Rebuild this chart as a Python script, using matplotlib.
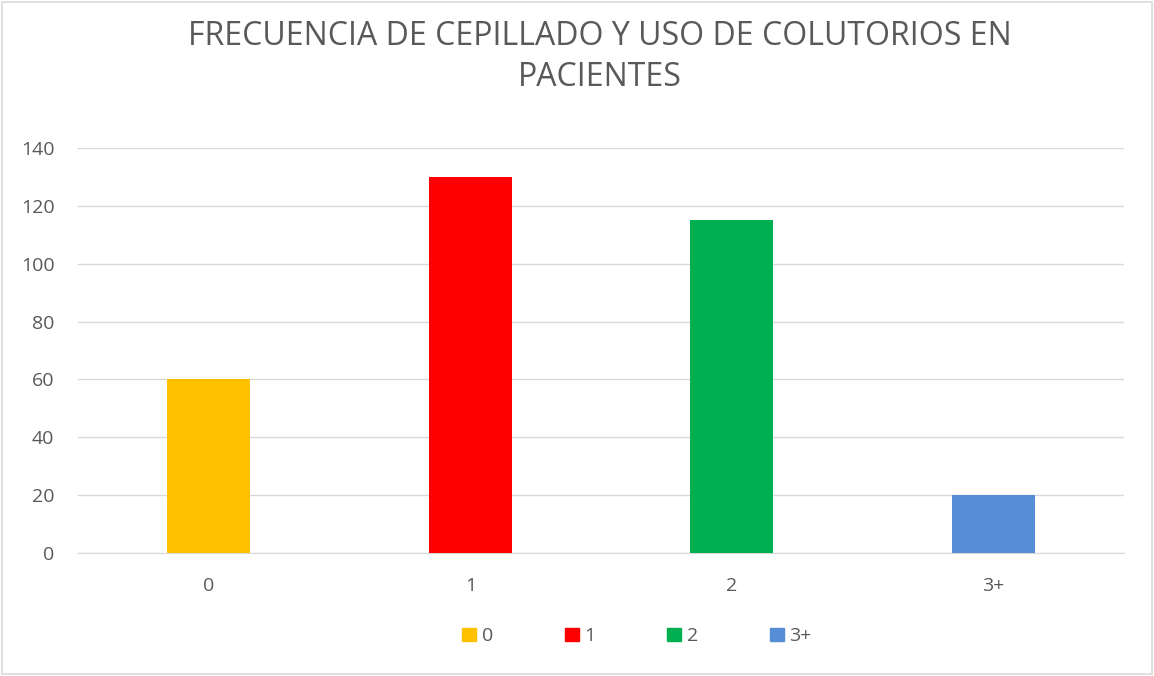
import matplotlib.pyplot as plt
from matplotlib.patches import Patch

# datos
categorias = ['0', '1', '2', '3+']
pacientes = [60, 130, 115, 20]
colores = ['#FFC000', '#FF0000', '#00B050', '#558ED5']

gris = '#595959'
plt.rcParams['font.family'] = ['Open Sans', 'DejaVu Sans']

fig = plt.figure(figsize=(11.54, 6.76), dpi=100)
ax = fig.add_axes([0.0676, 0.182, 0.9064, 0.599])

x = range(len(categorias))
ax.bar(x, pacientes, width=0.317, color=colores, zorder=3)

ax.set_xlim(-0.5, len(categorias) - 0.5)
ax.set_ylim(0, 140)
ax.set_yticks(range(0, 141, 20))
ax.set_xticks(list(x))
ax.set_xticklabels(categorias)
ax.grid(axis='y', color='#D9D9D9', linewidth=1, zorder=0)
for s in ['top', 'right', 'left']:
    ax.spines[s].set_visible(False)
ax.spines['bottom'].set_color('#D9D9D9')
ax.tick_params(axis='both', length=0, labelsize=14, colors=gris)
ax.tick_params(axis='x', pad=17)
ax.tick_params(axis='y', pad=17)

fig.text(0.52, 0.916, 'FRECUENCIA DE CEPILLADO Y USO DE COLUTORIOS EN\nPACIENTES',
         fontsize=23, color=gris, ha='center', va='center', linespacing=1.3)

handles = [Patch(color=c, label=l) for c, l in zip(colores, categorias)]
fig.legend(handles=handles, loc='center', bbox_to_anchor=(0.552, 0.059), ncol=4,
           frameon=False, fontsize=14, labelcolor=gris, handlelength=0.7,
           handleheight=0.7, handletextpad=0.3, columnspacing=3.7)

# borde exterior
fig.patches.append(plt.Rectangle((0.002, 0.003), 0.996, 0.994, transform=fig.transFigure,
                                 fill=False, edgecolor='#D9D9D9', linewidth=1.2))

fig.savefig('out.png', dpi=100)
